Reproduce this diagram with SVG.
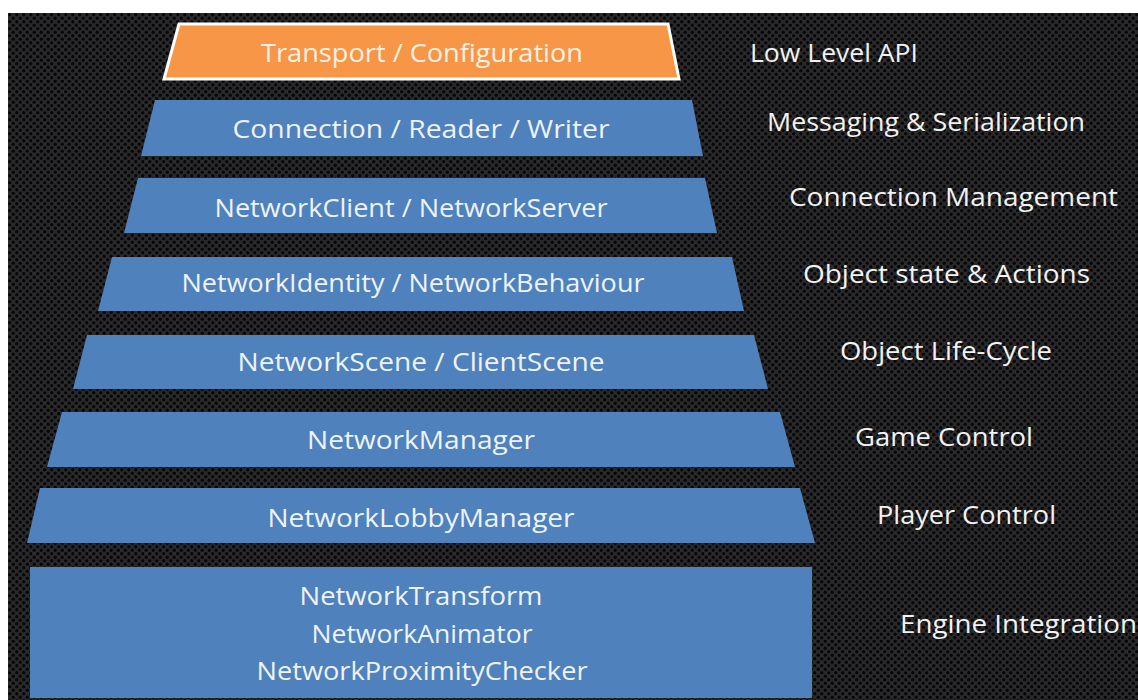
<svg xmlns="http://www.w3.org/2000/svg" width="1138" height="700" viewBox="0 0 1138 700">
  <defs>
    <pattern id="mesh" x="8" y="13" width="7" height="7" patternUnits="userSpaceOnUse">
      <rect width="7" height="7" fill="#2a2a2c"/>
      <circle cx="1.75" cy="1.75" r="1.7" fill="#060606"/>
      <circle cx="5.25" cy="5.25" r="1.7" fill="#060606"/>
    </pattern>
  </defs>
  <style>
    .band { fill: #4f81bd; }
    .orange { fill: #f79646; stroke: #ffffff; stroke-width: 3; }
    .t { font-family: "Open Sans", "Noto Sans", "Liberation Sans", sans-serif; font-size: 26px; fill: #eef3fa; text-anchor: middle; }
    .to { fill: #fdf1e4; }
    .lbl { font-family: "Open Sans", "Noto Sans", "Liberation Sans", sans-serif; font-size: 26px; fill: #f2f2f2; }
  </style>
  <rect x="0" y="0" width="1138" height="700" fill="#ffffff"/>
  <rect x="8" y="13" width="1130" height="687" fill="url(#mesh)"/>

  <g id="node-transport">
    <polygon class="orange" points="179,24 668,24 679,79 164,79"/>
    <text class="t to" x="422" y="62" textLength="322" lengthAdjust="spacingAndGlyphs">Transport / Configuration</text>
  </g>
  <g id="node-connection">
    <polygon class="band" points="155,100 692,100 703,156 141,156"/>
    <text class="t" x="421" y="138" textLength="377" lengthAdjust="spacingAndGlyphs">Connection / Reader / Writer</text>
  </g>
  <g id="node-client">
    <polygon class="band" points="138,178 705,178 717,233 124,233"/>
    <text class="t" x="411" y="217" textLength="393" lengthAdjust="spacingAndGlyphs">NetworkClient / NetworkServer</text>
  </g>
  <g id="node-identity">
    <polygon class="band" points="112,257 732,257 744,311 98,311"/>
    <text class="t" x="413" y="292" textLength="463" lengthAdjust="spacingAndGlyphs">NetworkIdentity / NetworkBehaviour</text>
  </g>
  <g id="node-scene">
    <polygon class="band" points="87,335 754,335 768,389 73,389"/>
    <text class="t" x="421" y="371" textLength="367" lengthAdjust="spacingAndGlyphs">NetworkScene / ClientScene</text>
  </g>
  <g id="node-manager">
    <polygon class="band" points="62,412 780,412 795,467 47,467"/>
    <text class="t" x="421" y="449" textLength="228" lengthAdjust="spacingAndGlyphs">NetworkManager</text>
  </g>
  <g id="node-lobby">
    <polygon class="band" points="40,488 800,488 815,543 27,543"/>
    <text class="t" x="421" y="527" textLength="307" lengthAdjust="spacingAndGlyphs">NetworkLobbyManager</text>
  </g>
  <g id="node-engine">
    <rect class="band" x="30" y="567" width="782" height="131"/>
    <text class="t" x="421" y="605" textLength="243" lengthAdjust="spacingAndGlyphs">NetworkTransform</text>
    <text class="t" x="422" y="643" textLength="221" lengthAdjust="spacingAndGlyphs">NetworkAnimator</text>
    <text class="t" x="422" y="680" textLength="331" lengthAdjust="spacingAndGlyphs">NetworkProximityChecker</text>
  </g>

  <g id="labels">
    <text class="lbl" x="750" y="62" textLength="168" lengthAdjust="spacingAndGlyphs">Low Level API</text>
    <text class="lbl" x="767" y="131" textLength="318" lengthAdjust="spacingAndGlyphs">Messaging &amp; Serialization</text>
    <text class="lbl" x="789" y="206" textLength="329" lengthAdjust="spacingAndGlyphs">Connection Management</text>
    <text class="lbl" x="803" y="283" textLength="287" lengthAdjust="spacingAndGlyphs">Object state &amp; Actions</text>
    <text class="lbl" x="840" y="360" textLength="212" lengthAdjust="spacingAndGlyphs">Object Life-Cycle</text>
    <text class="lbl" x="855" y="446" textLength="178" lengthAdjust="spacingAndGlyphs">Game Control</text>
    <text class="lbl" x="877" y="524" textLength="179" lengthAdjust="spacingAndGlyphs">Player Control</text>
    <text class="lbl" x="900" y="633" textLength="237" lengthAdjust="spacingAndGlyphs">Engine Integration</text>
  </g>
  <g id="connectors"/>
</svg>
